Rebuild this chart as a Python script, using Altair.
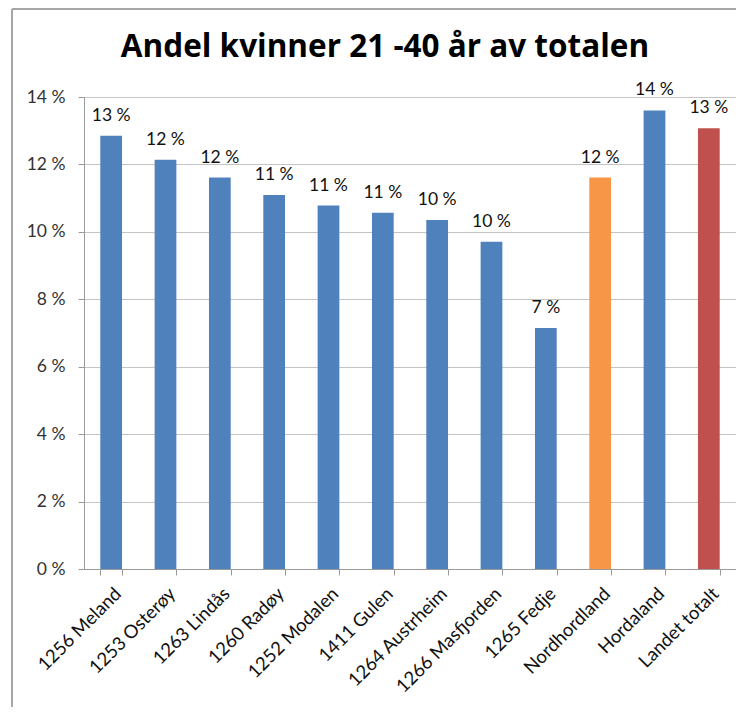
import altair as alt
import pandas as pd

categories = ["1256 Meland", "1253 Osterøy", "1263 Lindås", "1260 Radøy", "1252 Modalen",
              "1411 Gulen", "1264 Austrheim", "1266 Masfjorden", "1265 Fedje",
              "Nordhordland", "Hordaland", "Landet totalt"]
values = [12.85, 12.14, 11.61, 11.09, 10.78, 10.57, 10.35, 9.71, 7.15, 11.61, 13.60, 13.07]
groups = ["kommune"] * 9 + ["region", "fylke", "land"]
y_ticks = [0, 2, 4, 6, 8, 10, 12, 14]

group_domain = ["kommune", "region", "fylke", "land"]
group_colors = ["#4F81BD", "#F79646", "#4F81BD", "#C0504D"]

df = pd.DataFrame({"kategori": categories, "andel": values, "gruppe": groups})

FONT = "Lato"
W, H = 652, 472

x_enc = alt.X("kategori:N", sort=categories,
              scale=alt.Scale(paddingInner=0.6, paddingOuter=0.3),
              axis=alt.Axis(title=None, labelAngle=-45, labelFontSize=18.5, labelFont=FONT,
                            labelColor="#111111", tickBand="extent", tickSize=6,
                            tickColor="#9a9a9a", domainColor="#9a9a9a", labelPadding=9,
                            grid=False))
y_enc = alt.Y("andel:Q",
              scale=alt.Scale(domain=[0, 14], nice=False),
              axis=alt.Axis(title=None, values=y_ticks, labelExpr="datum.value + ' %'",
                            labelFontSize=17.5, labelFont=FONT, labelColor="#333333",
                            tickSize=6, tickColor="#9a9a9a", domainColor="#9a9a9a",
                            gridColor="#c4c4c4", labelPadding=13))

bars = alt.Chart(df).mark_bar().encode(
    x=x_enc, y=y_enc,
    color=alt.Color("gruppe:N", scale=alt.Scale(domain=group_domain, range=group_colors),
                    legend=None),
)

labels = alt.Chart(df).transform_calculate(
    txt="format(round(datum.andel), 'd') + ' %'"
).mark_text(font=FONT, fontSize=17.5, color="#111111", baseline="alphabetic", dy=-15).encode(
    x=alt.X("kategori:N", sort=categories),
    y="andel:Q",
    text="txt:N",
)

frame_data = alt.Data(values=[{}])
frame_left = alt.Chart(frame_data).mark_rule(color="#a6a6a6", strokeWidth=2).encode(
    x=alt.value(-72), y=alt.value(-88), y2=alt.value(640))
frame_top = alt.Chart(frame_data).mark_rule(color="#a6a6a6", strokeWidth=2).encode(
    x=alt.value(-72), x2=alt.value(W + 20), y=alt.value(-88))

chart = alt.layer(bars, labels, frame_left, frame_top).properties(
    width=W, height=H,
    autosize=alt.AutoSizeParams(type="none"),
    padding={"left": 76, "top": 89, "right": 0, "bottom": 138},
    title=alt.Title("Andel kvinner 21 -40 år av totalen", font="Open Sans", fontSize=31.5,
                    fontWeight="bold", color="#000000", anchor="middle", dx=-25,
                    baseline="alphabetic", offset=-80),
).configure_view(stroke=None).configure(background="white")

chart.save("out.html", embed_options={"renderer": "svg", "actions": False})
